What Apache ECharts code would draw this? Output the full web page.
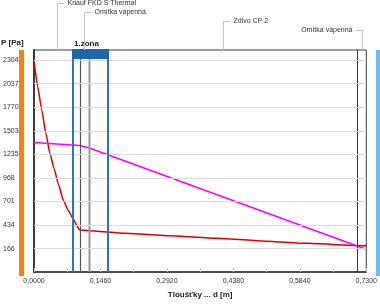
<!DOCTYPE html>
<html>
<head>
<meta charset="utf-8">
<script src="https://cdn.jsdelivr.net/npm/echarts@6/dist/echarts.min.js"></script>
<style>
html, body { margin: 0; padding: 0; background: #fff; }
#chart { width: 380px; height: 304px; }
</style>
</head>
<body>
<div id="chart"></div>
<script>
// skladba konstrukce (tloušťky v m)
const layerNames = ["Knauf FKD S Thermal", "Omítka vápenná", "Zdivo CP 2", "Omítka vápenná"];
const layerBounds = [0, 0.10, 0.12, 0.71, 0.73];
const zoneName = "1.zona";
const zoneBounds = [0.0865, 0.1628];

// nasycený tlak vodní páry (červená)
const satD = [0, 0.008, 0.017, 0.026, 0.035, 0.044, 0.054, 0.064, 0.075, 0.086, 0.093, 0.100, 0.120, 0.200, 0.300, 0.400, 0.500, 0.600, 0.710, 0.730];
const satP = [2300, 2005, 1740, 1475, 1245, 1075, 890, 720, 600, 505, 435, 378, 368, 340, 312, 283, 253, 225, 202, 198];

// částečný tlak vodní páry (fialová)
const parD = [0, 0.10, 0.12, 0.71, 0.73];
const parP = [1370, 1335, 1310, 195, 160];

// popisky os
const yTicks = [166, 434, 701, 968, 1235, 1503, 1770, 2037, 2304];
const xTicks = [0, 0.073, 0.146, 0.219, 0.292, 0.365, 0.438, 0.511, 0.584, 0.657, 0.73];
const xLabels = [0, 0.146, 0.292, 0.438, 0.584, 0.73];

const yMin = -100;
const yMax = 2420;
const font = "Liberation Sans";

const boundaryStyles = [
      { stroke: "#555555", lineWidth: 1.2 },
      { stroke: "#959595", lineWidth: 2 },
      { stroke: "#3a3a3a", lineWidth: 1 },
];

const zip = (a, b) => a.map((v, i) => [v, b[i]]);

const chart = echarts.init(document.getElementById("chart"));

const option = {
      animation: false,
      textStyle: { fontFamily: font },
      grid: {
            left: 32,
            right: 13,
            top: 50,
            bottom: 28,
            show: true,
            borderColor: "#3c3c3c",
            borderWidth: 1,
      },
      graphic: [
            { type: "rect", shape: { x: 19, y: 50, width: 5, height: 226 }, style: { fill: "#ff8000" } },
            { type: "rect", shape: { x: 376, y: 50, width: 4, height: 226 }, style: { fill: "#62c2f8" } },
            {
                  type: "text",
                  left: 1,
                  top: 39,
                  style: { text: "P [Pa]", font: "bold 8px " + font, fill: "#222" },
            },
      ],
      xAxis: {
            type: "value",
            min: 0,
            max: 0.73,
            interval: 0.073,
            name: "Tloušťky ... d [m]",
            nameLocation: "middle",
            nameGap: 19,
            nameTextStyle: { fontWeight: "bold", fontSize: 8, color: "#222" },
            axisLine: { show: true, onZero: false, lineStyle: { color: "#333", width: 1.5 } },
            axisTick: {
                  show: true,
                  inside: true,
                  length: 4,
                  customValues: xTicks,
                  lineStyle: { color: "#c8c8c8" },
            },
            axisLabel: {
                  customValues: xLabels,
                  formatter: (v) => v.toFixed(4).replace(".", ","),
                  fontSize: 7,
                  color: "#333",
                  margin: 6,
            },
            splitLine: { show: false },
      },
      yAxis: {
            type: "value",
            min: yMin,
            max: yMax,
            axisLine: { show: true, onZero: false, lineStyle: { color: "#3c3c3c", width: 2 } },
            axisTick: { show: false, customValues: yTicks },
            axisLabel: {
                  customValues: yTicks,
                  formatter: (v) => String(v),
                  align: "left",
                  margin: 31,
                  fontSize: 7,
                  color: "#333",
            },
            splitLine: { show: false },
      },
      series: [
            {
                  // vodorovná mřížka
                  type: "line",
                  data: [],
                  silent: true,
                  z: 1,
                  markLine: {
                        silent: true,
                        symbol: ["none", "none"],
                        label: { show: false },
                        lineStyle: { color: "#dcdcdc", width: 1, type: "solid" },
                        data: yTicks.map((v) => ({ yAxis: v })),
                  },
            },
            {
                  name: "p_sat",
                  type: "line",
                  showSymbol: false,
                  smooth: 0.15,
                  smoothMonotone: "x",
                  data: zip(satD, satP),
                  lineStyle: { color: "#dd0000", width: 1.5 },
                  z: 2,
            },
            {
                  name: "p",
                  type: "line",
                  showSymbol: false,
                  data: zip(parD, parP),
                  lineStyle: { color: "#ff00ff", width: 1.5 },
                  z: 2,
            },
            {
                  // hranice vrstev
                  type: "custom",
                  silent: true,
                  clip: false,
                  z: 4,
                  data: layerBounds.slice(1, -1).map((b) => [b, yMin]),
                  renderItem: (params, api) => {
                        const top = api.coord([api.value(0), yMax]);
                        const bot = api.coord([api.value(0), yMin]);
                        const x = Math.round(top[0]) + 0.5;
                        return {
                              type: "line",
                              shape: { x1: x, y1: top[1], x2: x, y2: bot[1] },
                              style: boundaryStyles[params.dataIndex],
                        };
                  },
            },
            {
                  // zóna
                  type: "custom",
                  silent: true,
                  clip: false,
                  z: 5,
                  data: [[zoneBounds[0], yMin, zoneBounds[1]]],
                  renderItem: (params, api) => {
                        const a = api.coord([api.value(0), yMax]);
                        const b = api.coord([api.value(2), yMin]);
                        const x1 = Math.round(a[0]);
                        const x2 = Math.round(b[0]);
                        const lineStyle = { stroke: "#2f74b5", lineWidth: 2 };
                        return {
                              type: "group",
                              children: [
                                    { type: "line", shape: { x1: x1, y1: a[1], x2: x1, y2: b[1] }, style: lineStyle },
                                    { type: "line", shape: { x1: x2, y1: a[1], x2: x2, y2: b[1] }, style: lineStyle },
                                    {
                                          type: "rect",
                                          shape: { x: x1 - 1, y: a[1] - 1, width: x2 - x1 + 2, height: 10 },
                                          style: { fill: "#2166a6" },
                                    },
                                    {
                                          type: "text",
                                          style: {
                                                text: zoneName,
                                                x: x1 + 1,
                                                y: a[1] - 6,
                                                align: "left",
                                                verticalAlign: "middle",
                                                font: "bold 8px " + font,
                                                fill: "#222",
                                          },
                                    },
                              ],
                        };
                  },
            },
            {
                  // názvy vrstev
                  type: "custom",
                  silent: true,
                  clip: false,
                  z: 6,
                  data: layerNames.map((n, i) => [layerBounds[i], yMin, layerBounds[i + 1]]),
                  renderItem: (params, api) => {
                        const i = params.dataIndex;
                        const mid = (api.value(0) + api.value(2)) / 2;
                        const p = api.coord([mid, yMax]);
                        const x = Math.round(p[0]) + 0.5;
                        const ly = Math.round(p[1] - 47 + i * 9) + 0.5;
                        const flip = x > api.getWidth() - 80;
                        const hx = flip ? x - 7 : x + 7;
                        return {
                              type: "group",
                              children: [
                                    {
                                          type: "polyline",
                                          shape: { points: [[x, p[1]], [x, ly], [hx, ly]] },
                                          style: { stroke: "#c4c4c4", lineWidth: 1, fill: null },
                                    },
                                    {
                                          type: "text",
                                          style: {
                                                text: layerNames[i],
                                                x: flip ? hx - 3 : hx + 3,
                                                y: ly,
                                                align: flip ? "right" : "left",
                                                verticalAlign: "middle",
                                                fontSize: 7,
                                                fontFamily: font,
                                                fill: "#333",
                                          },
                                    },
                              ],
                        };
                  },
            },
      ],
};

chart.setOption(option);
</script>
</body>
</html>
